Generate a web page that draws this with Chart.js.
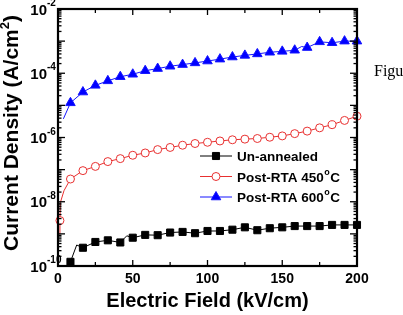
<!DOCTYPE html>
<html>
<head>
<meta charset="utf-8">
<script src="https://cdn.jsdelivr.net/npm/chart.js@4.4.0/dist/chart.umd.min.js"></script>
<style>
body { margin: 0; background: #fff; }
#wrap { width: 403px; height: 315px; }
</style>
</head>
<body>
<div id="wrap"><canvas id="chart"></canvas></div>
<script>
// electric field (kV/cm) at the markers
const field = [8.33, 16.67, 25, 33.33, 41.67, 50, 58.33, 66.67, 75, 83.33, 91.67, 100,
               108.33, 116.67, 125, 133.33, 141.67, 150, 158.33, 166.67, 175, 183.33, 191.67, 200];

// current density (A/cm^2)
const unannealed = [1.35e-10, 3.7e-10, 5.6e-10, 6.3e-10, 5.4e-10, 7.6e-10, 9.3e-10, 9.1e-10, 1.1e-9, 1.15e-9, 1.05e-9, 1.23e-9,
                    1.23e-9, 1.35e-9, 1.6e-9, 1.3e-9, 1.5e-9, 1.6e-9, 1.75e-9, 1.75e-9, 1.75e-9, 1.9e-9, 1.9e-9, 1.9e-9];
const rta450 = [5.1e-8, 9.3e-8, 1.26e-7, 1.78e-7, 2.2e-7, 2.8e-7, 3.3e-7, 4.2e-7, 4.9e-7, 5.75e-7, 6.5e-7, 7.1e-7,
                7.8e-7, 8.5e-7, 8.9e-7, 9.3e-7, 1.02e-6, 1.12e-6, 1.32e-6, 1.58e-6, 2.0e-6, 2.5e-6, 3.4e-6, 4.6e-6];
const rta600 = [1.2e-5, 2.6e-5, 4.2e-5, 5.8e-5, 7.8e-5, 9.3e-5, 1.2e-4, 1.4e-4, 1.65e-4, 1.86e-4, 2.1e-4, 2.4e-4,
                2.75e-4, 3.2e-4, 3.6e-4, 4.0e-4, 4.5e-4, 4.8e-4, 5.2e-4, 6.3e-4, 9.5e-4, 8.9e-4, 1.0e-3, 1.0e-3];

// extra marker on the 450C curve near zero field
const rta450StartX = [1.3];
const rta450StartY = [2.6e-9];

// points on the curves that carry no marker
const unannealedLineX = [12.5, 46];
const unannealedLineY = [4.5e-10, 8.7e-10];
const rta450LineX = [0.9, 1.6, 4];
const rta450LineY = [1e-9, 9.5e-9, 2.2e-8];
const rta600LineX = [3.6, 163];
const rta600LineY = [3.8e-6, 6.8e-4];

// axis ticks
const xTicks = [0, 25, 50, 75, 100, 125, 150, 175, 200];
const xLabels = [0, 50, 100, 150, 200];
const yDecades = [-10, -9, -8, -7, -6, -5, -4, -3, -2];
const yLabels = [-10, -8, -6, -4, -2];

function buildPoints(xs, ys, lineXs, lineYs) {
    const pts = xs.map((x, i) => ({x: x, y: ys[i], mark: true}));
    lineXs.forEach((x, i) => pts.push({x: x, y: lineYs[i], mark: false}));
    return pts.sort((a, b) => a.x - b.x);
}

const series = [
    {label: 'Un-annealed', color: '#000000', fill: '#000000', style: 'rect', r: 5,
     data: buildPoints(field, unannealed, unannealedLineX, unannealedLineY)},
    {label: 'Post-RTA 450', color: '#e83030', fill: '#ffffff', style: 'circle', r: 4,
     data: buildPoints(rta450StartX.concat(field), rta450StartY.concat(rta450), rta450LineX, rta450LineY)},
    {label: 'Post-RTA 600', color: '#1515ff', fill: '#0000ff', style: 'triangle', r: 5.5,
     data: buildPoints(field, rta600, rta600LineX, rta600LineY)}
];

const axesPlugin = {
    id: 'axesPlugin',
    afterDatasetsDraw(chart) {
        const {ctx, chartArea: a, scales: {x, y}} = chart;
        ctx.save();
        ctx.strokeStyle = '#000';
        ctx.fillStyle = '#000';
        ctx.lineWidth = 1.3;
        const seg = (x1, y1, x2, y2) => { ctx.beginPath(); ctx.moveTo(x1, y1); ctx.lineTo(x2, y2); ctx.stroke(); };

        xTicks.forEach(v => {
            const px = x.getPixelForValue(v);
            const len = v % 50 === 0 ? 6 : 4;
            seg(px, a.bottom, px, a.bottom - len);
            seg(px, a.top, px, a.top + len);
        });
        yDecades.forEach(d => {
            const py = y.getPixelForValue(Math.pow(10, d));
            seg(a.left, py, a.left + 7, py);
            seg(a.right, py, a.right - 7, py);
            if (d < -2) {
                for (let m = 2; m < 10; m++) {
                    const pm = y.getPixelForValue(m * Math.pow(10, d));
                    seg(a.left, pm, a.left + 3.5, pm);
                    seg(a.right, pm, a.right - 3.5, pm);
                }
            }
        });

        ctx.lineWidth = 2.2;
        ctx.strokeRect(a.left, a.top, a.width, a.height);

        // tick labels
        ctx.font = 'bold 14px "Liberation Sans", Arial, sans-serif';
        ctx.textAlign = 'center';
        ctx.textBaseline = 'alphabetic';
        xLabels.forEach(v => ctx.fillText(String(v), x.getPixelForValue(v), a.bottom + 17));

        yLabels.forEach(d => {
            const py = y.getPixelForValue(Math.pow(10, d));
            ctx.font = 'bold 15px "Liberation Sans", Arial, sans-serif';
            ctx.textAlign = 'right';
            ctx.fillText('10', a.left - 11, py + 5.5);
            ctx.font = 'bold 10px "Liberation Sans", Arial, sans-serif';
            ctx.textAlign = 'left';
            ctx.fillText(String(d), a.left - 11, py - 3);
        });

        // axis titles
        ctx.font = 'bold 20px "Liberation Sans", Arial, sans-serif';
        ctx.textAlign = 'center';
        ctx.fillText('Electric Field (kV/cm)', (a.left + a.right) / 2, 307);

        ctx.save();
        ctx.translate(18, 133);
        ctx.rotate(-Math.PI / 2);
        const big = 'bold 21px "Liberation Sans", Arial, sans-serif';
        const small = 'bold 13px "Liberation Sans", Arial, sans-serif';
        ctx.font = big;
        const t1 = 'Current Density (A/cm';
        const w1 = ctx.measureText(t1).width;
        const w3 = ctx.measureText(')').width;
        ctx.font = small;
        const w2 = ctx.measureText('2').width;
        let tx = -(w1 + w2 + w3) / 2;
        ctx.textAlign = 'left';
        ctx.font = big;
        ctx.fillText(t1, tx, 0);
        ctx.font = small;
        ctx.fillText('2', tx + w1, -9);
        ctx.font = big;
        ctx.fillText(')', tx + w1 + w2, 0);
        ctx.restore();

        // legend
        series.forEach((s, i) => {
            const ly = 156 + i * 20.5;
            ctx.strokeStyle = s.color;
            ctx.lineWidth = 1;
            seg(200, ly, 232, ly);
            ctx.fillStyle = s.fill;
            ctx.lineWidth = 1;
            Chart.helpers.drawPoint(ctx, {pointStyle: s.style, radius: s.r, rotation: 0, borderWidth: 1}, 216, ly);
            ctx.fillStyle = '#000';
            ctx.font = 'bold 13.5px "Liberation Sans", Arial, sans-serif';
            ctx.textAlign = 'left';
            ctx.fillText(s.label, 237, ly + 5);
            if (i > 0) {
                let w = ctx.measureText(s.label).width;
                ctx.font = 'bold 9px "Liberation Sans", Arial, sans-serif';
                ctx.fillText('o', 237 + w + 0.5, ly - 2);
                const wo = ctx.measureText('o').width;
                ctx.font = 'bold 13.5px "Liberation Sans", Arial, sans-serif';
                ctx.fillText('C', 237 + w + wo + 1, ly + 5);
            }
        });

        // caption fragment at the right edge
        ctx.font = '16px "Liberation Serif", "Times New Roman", serif';
        ctx.fillText('Figure', 374, 76);
        ctx.restore();
    }
};

new Chart(document.getElementById('chart'), {
    type: 'scatter',
    data: {
        datasets: series.map(s => ({
            label: s.label,
            data: s.data,
            showLine: true,
            borderColor: s.color,
            borderWidth: 1,
            pointStyle: s.style,
            pointBackgroundColor: s.fill,
            pointBorderColor: s.color,
            pointBorderWidth: 1,
            pointRadius: c => (c.raw && c.raw.mark ? s.r : 0),
            tension: 0,
            clip: false
        }))
    },
    options: {
        responsive: true,
        maintainAspectRatio: false,
        animation: false,
        events: [],
        layout: {padding: {left: 58, right: 46, top: 9, bottom: 49}},
        plugins: {legend: {display: false}, tooltip: {enabled: false}},
        scales: {
            x: {type: 'linear', min: 0, max: 200, display: false},
            y: {type: 'logarithmic', min: 1e-10, max: 1e-2, display: false}
        }
    },
    plugins: [axesPlugin]
});
</script>
</body>
</html>
